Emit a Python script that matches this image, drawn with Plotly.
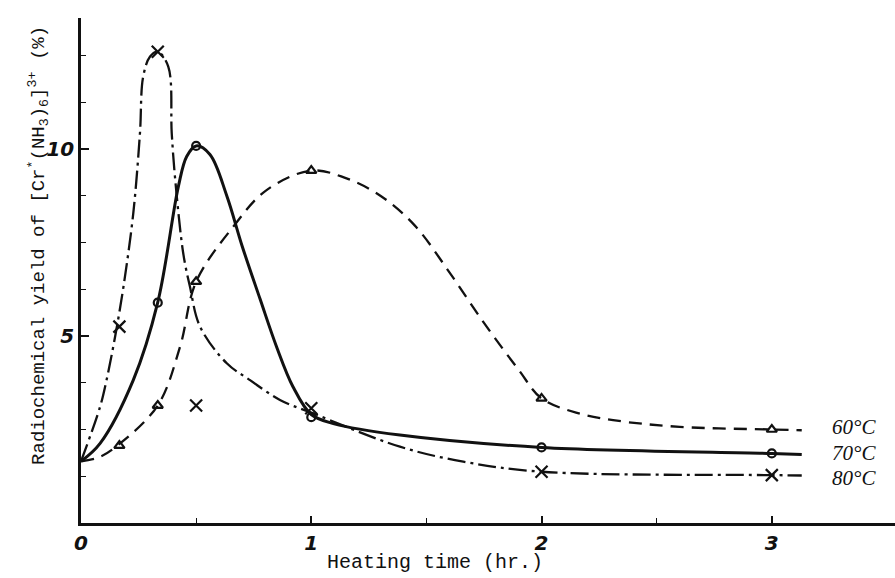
import plotly.graph_objects as go

# Measured radiochemical yields (%) vs heating time (hr)
t_60 = [0, 1/6, 1/3, 1/2, 1, 2, 3]
y_60 = [1.65, 2.07, 3.14, 6.45, 9.42, 3.33, 2.50]

t_70 = [0, 1/3, 1/2, 1, 2, 3]
y_70 = [1.65, 5.89, 10.08, 2.83, 2.02, 1.86]

t_80 = [0, 1/6, 1/3, 1/2, 1, 2, 3]
y_80 = [1.65, 5.25, 12.60, 3.14, 3.07, 1.37, 1.28]

# Hand-fitted smooth curves through the data
curve_60_x = [0, 0.083, 0.158, 0.333, 0.43, 0.5, 0.661, 0.806, 1.0, 1.15, 1.3,
              1.45, 1.6, 1.75, 1.9, 2.0, 2.15, 2.311, 2.6, 3.0, 3.13]
curve_60_y = [1.65, 1.77, 2.07, 3.14, 4.71, 6.45, 7.92, 8.90, 9.42, 9.22, 8.75,
              7.95, 6.70, 5.35, 4.10, 3.33, 2.95, 2.75, 2.57, 2.50, 2.48]

curve_70_x = [0, 0.083, 0.227, 0.333, 0.423, 0.459, 0.5, 0.56, 0.633, 0.70,
              0.777, 0.85, 0.92, 1.0, 1.1, 1.385, 2.0, 3.0, 3.13]
curve_70_y = [1.65, 2.13, 3.82, 5.89, 9.0, 9.8, 10.08, 9.85, 8.75, 7.40,
              6.0, 4.70, 3.65, 2.90, 2.65, 2.35, 2.02, 1.86, 1.83]

curve_80_x = [0, 0.083, 0.111, 0.148, 0.184, 0.227, 0.256, 0.27, 0.30, 0.333,
              0.379, 0.394, 0.408, 0.444, 0.473, 0.517, 0.633, 0.734, 0.864,
              1.0, 1.385, 1.66, 2.0, 3.0, 3.13]
curve_80_y = [1.65, 3.11, 3.82, 4.98, 6.3, 8.28, 10.42, 11.93, 12.47, 12.60,
              12.2, 10.42, 9.26, 7.21, 6.32, 5.25, 4.27, 3.82, 3.29,
              2.95, 2.04, 1.64, 1.37, 1.28, 1.27]

series_labels = ["60°C", "70°C", "80°C"]
label_x = [3.355, 3.355, 3.355]
label_y = [2.57, 1.87, 1.20]

x_ticks = [0, 1, 2, 3]
x_minor = [0.5, 1.5, 2.5]
y_ticks = [5, 10]
y_minor = [1.25, 2.5, 3.75, 6.25, 7.5, 8.75, 11.25, 12.5]

ink = "#111111"
fig = go.Figure()

curves = [
    (curve_60_x, curve_60_y, "13px,8px", 2.3),
    (curve_70_x, curve_70_y, "solid", 3.0),
    (curve_80_x, curve_80_y, "18px,5px,3px,5px", 2.3),
]
for cx, cy, dash, w in curves:
    fig.add_trace(go.Scatter(
        x=cx, y=cy, mode="lines",
        line=dict(color=ink, width=w, dash=dash, shape="spline", smoothing=1.0),
        hoverinfo="skip", showlegend=False,
    ))

points = [
    (t_60, y_60, "triangle-up-open", 9),
    (t_70, y_70, "circle-open", 8),
    (t_80, y_80, "x-thin-open", 12),
]
for px, py, sym, sz in points:
    fig.add_trace(go.Scatter(
        x=px[1:], y=py[1:], mode="markers",
        marker=dict(symbol=sym, size=sz, color=ink, line=dict(color=ink, width=2.2)),
        showlegend=False,
    ))

for txt, lx, ly in zip(series_labels, label_x, label_y):
    fig.add_annotation(
        x=lx, y=ly, text=txt, showarrow=False, xanchor="center", yanchor="middle",
        font=dict(family="Liberation Serif", size=21, color=ink, style="italic"),
    )

# Rotated y-axis title with chemical formula
fig.add_annotation(
    xref="paper", yref="paper", x=-0.052, y=0.55, textangle=-90,
    text="Radiochemical yield of [Cr<sup>*</sup>(NH<sub>3</sub>)<sub>6</sub>]<sup>3+</sup> (%)",
    showarrow=False, xanchor="center", yanchor="middle",
    font=dict(family="Liberation Mono", size=19, color=ink),
)

# x-axis title
fig.add_annotation(
    xref="x", yref="paper", x=1.537, y=-0.079,
    text="Heating time (hr.)", showarrow=False, xanchor="center", yanchor="middle",
    font=dict(family="Liberation Mono", size=20, color=ink),
)

tick_font = dict(family="DejaVu Sans", size=20, color=ink, style="italic", weight="bold")

fig.update_layout(
    width=895, height=578,
    margin=dict(l=81, r=0, t=18, b=55),
    paper_bgcolor="white", plot_bgcolor="white",
    xaxis=dict(
        range=[0, 3.535], showgrid=False, zeroline=False,
        showline=True, linecolor=ink, linewidth=2.5,
        tickvals=x_ticks, ticktext=[str(v) for v in x_ticks],
        ticks="inside", ticklen=7, tickwidth=1.6, tickcolor=ink,
        minor=dict(tickvals=x_minor, ticks="inside", ticklen=5, tickwidth=1.3, tickcolor=ink),
        tickfont=tick_font,
    ),
    yaxis=dict(
        range=[0, 13.5], showgrid=False, zeroline=False,
        showline=True, linecolor=ink, linewidth=2.5,
        tickvals=y_ticks, ticktext=[str(v) for v in y_ticks],
        ticks="inside", ticklen=8, tickwidth=1.6, tickcolor=ink,
        minor=dict(tickvals=y_minor, ticks="inside", ticklen=5, tickwidth=1.3, tickcolor=ink),
        tickfont=tick_font,
    ),
)

fig.write_html("out.html")
